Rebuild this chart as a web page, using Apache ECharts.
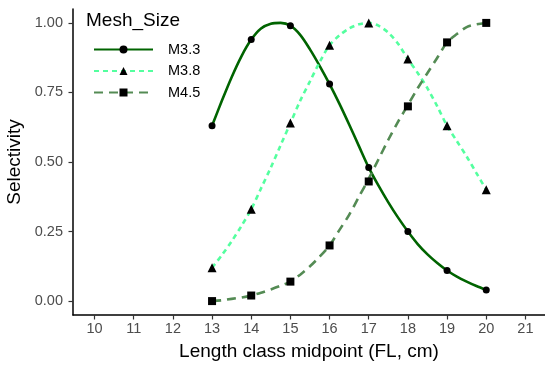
<!DOCTYPE html>
<html>
<head>
<meta charset="utf-8">
<script src="https://cdn.jsdelivr.net/npm/echarts@6/dist/echarts.min.js"></script>
<style>
  html, body { margin: 0; padding: 0; background: #fff; }
  #chart { width: 545px; height: 365px; }
</style>
</head>
<body>
<div id="chart"></div>
<script>
// Observed selectivity at each length class midpoint
const lengthClasses = [13, 14, 15, 16, 17, 18, 19, 20];
const obsM33 = [0.63, 0.94, 0.99, 0.78, 0.48, 0.25, 0.11, 0.04];
const obsM38 = [0.12, 0.33, 0.64, 0.92, 1.00, 0.87, 0.63, 0.40];
const obsM45 = [0.00, 0.02, 0.07, 0.20, 0.43, 0.70, 0.93, 1.00];

// Fitted selectivity curves, sampled every quarter centimetre
const fitX = [13, 13.25, 13.5, 13.75, 14, 14.25, 14.5, 14.75, 15, 15.25, 15.5, 15.75,
              16, 16.25, 16.5, 16.75, 17, 17.25, 17.5, 17.75, 18, 18.25, 18.5, 18.75,
              19, 19.25, 19.5, 19.75, 20];
const fitM33 = [0.63, 0.72, 0.805, 0.88, 0.94, 0.98, 0.997, 1.00, 0.99, 0.957, 0.905, 0.845,
                0.78, 0.71, 0.635, 0.557, 0.48, 0.415, 0.355, 0.30, 0.25, 0.205, 0.168, 0.137,
                0.11, 0.088, 0.07, 0.054, 0.04];
const fitM38 = [0.12, 0.165, 0.215, 0.27, 0.33, 0.405, 0.48, 0.56, 0.64, 0.72, 0.79, 0.86,
                0.92, 0.955, 0.98, 0.995, 1.00, 0.99, 0.965, 0.925, 0.87, 0.82, 0.765, 0.70,
                0.63, 0.575, 0.52, 0.46, 0.40];
const fitM45 = [0.00, 0.003, 0.008, 0.013, 0.02, 0.03, 0.042, 0.055, 0.07, 0.095, 0.125, 0.16,
                0.20, 0.255, 0.31, 0.375, 0.44, 0.51, 0.58, 0.645, 0.705, 0.765, 0.82, 0.875,
                0.93, 0.96, 0.985, 0.995, 1.00];

const meshNames = ['M3.3', 'M3.8', 'M4.5'];
const xTicks = [10, 11, 12, 13, 14, 15, 16, 17, 18, 19, 20, 21];
const yTicks = [0, 0.25, 0.5, 0.75, 1.0];

const FONT = '"Liberation Sans", Arial, Helvetica, sans-serif';
const colors = ['#006400', '#54FF9F', '#548B54'];
const lineTypes = ['solid', [5, 4], [9, 6]];
const symbols = ['circle', 'triangle', 'rect'];
const symbolSizes = [7, 9, 8];

const zip = (xs, ys) => xs.map((x, i) => [x, ys[i]]);
const fits = [fitM33, fitM38, fitM45];
const obs = [obsM33, obsM38, obsM45];

const series = [];
meshNames.forEach((name, i) => {
  series.push({
    name: name,
    type: 'line',
    data: zip(fitX, fits[i]),
    smooth: 0.3,
    showSymbol: false,
    symbol: symbols[i],
    symbolSize: symbolSizes[i],
    lineStyle: { color: colors[i], width: 2.6, type: lineTypes[i], cap: 'butt' },
    itemStyle: { color: colors[i] },
    z: 2,
    silent: true
  });
});
meshNames.forEach((name, i) => {
  series.push({
    name: name,
    type: 'scatter',
    data: zip(lengthClasses, obs[i]),
    symbol: symbols[i],
    symbolSize: symbolSizes[i],
    itemStyle: { color: '#000', opacity: 1 },
    z: 3,
    silent: true
  });
});

const chart = echarts.init(document.getElementById('chart'), null, { renderer: 'canvas' });
chart.setOption({
  animation: false,
  backgroundColor: '#fff',
  textStyle: { fontFamily: FONT },
  title: {
    text: 'Mesh_Size',
    left: 86,
    top: 11,
    textStyle: { fontFamily: FONT, fontSize: 19, fontWeight: 'normal', color: '#000' },
    padding: 0
  },
  legend: {
    orient: 'vertical',
    left: 93,
    top: 42,
    itemWidth: 59,
    itemHeight: 10,
    itemGap: 6.5,
    padding: 0,
    selectedMode: false,
    data: meshNames.map(n => ({ name: n, itemStyle: { color: '#000' } })),
    textStyle: { fontFamily: FONT, fontSize: 14.5, color: '#000', padding: [0, 0, 0, 10] }
  },
  grid: { left: 73, right: 0, top: 9, bottom: 50, containLabel: false, outerBoundsMode: 'none' },
  xAxis: {
    type: 'value',
    min: 9.45,
    max: 21.5,
    name: 'Length class midpoint (FL, cm)',
    nameLocation: 'middle',
    nameGap: 27,
    nameTextStyle: { fontFamily: FONT, fontSize: 19, color: '#000' },
    axisLine: { show: true, onZero: false, lineStyle: { color: '#000', width: 1.5 } },
    axisTick: { show: true, customValues: xTicks, length: 4.5, lineStyle: { color: '#333', width: 1.2 } },
    axisLabel: { customValues: xTicks, margin: 6, fontFamily: FONT, fontSize: 14.5, color: '#4D4D4D' },
    splitLine: { show: false }
  },
  yAxis: {
    type: 'value',
    min: -0.05,
    max: 1.05,
    name: 'Selectivity',
    nameLocation: 'middle',
    nameGap: 42,
    nameRotate: 90,
    nameTextStyle: { fontFamily: FONT, fontSize: 19, color: '#000' },
    axisLine: { show: true, onZero: false, lineStyle: { color: '#000', width: 1.5 } },
    axisTick: { show: true, customValues: yTicks, length: 4.5, lineStyle: { color: '#333', width: 1.2 } },
    axisLabel: {
      customValues: yTicks, margin: 10, fontFamily: FONT, fontSize: 14.5, color: '#4D4D4D',
      formatter: v => v.toFixed(2)
    },
    splitLine: { show: false }
  },
  series: series
});
</script>
</body>
</html>
